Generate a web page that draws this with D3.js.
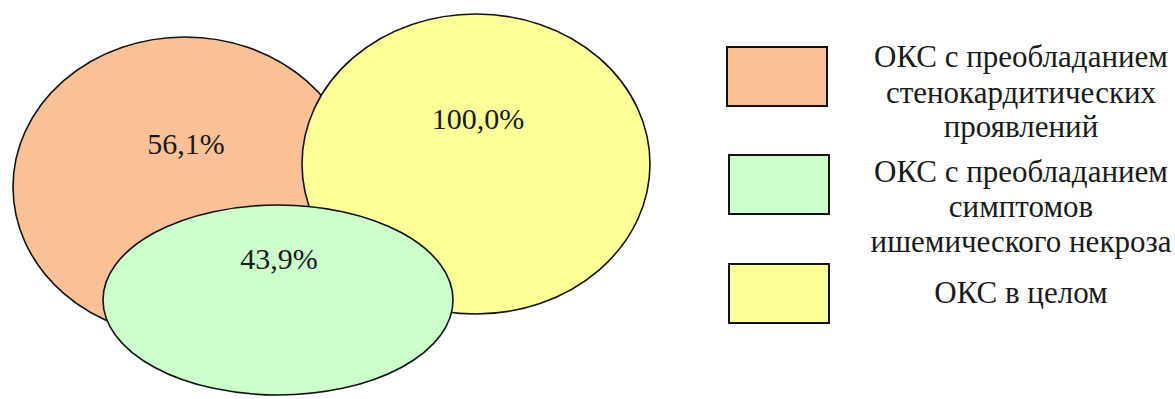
<!DOCTYPE html>
<html><head><meta charset="utf-8">
<script src="https://cdn.jsdelivr.net/npm/d3@7"></script>
</head><body>
<script>
// ---- data ----
const categories = ["ОКС с преобладанием стенокардитических проявлений", "ОКС с преобладанием симптомов ишемического некроза", "ОКС в целом"];
const values = [56.1, 43.9, 100.0];
const legendLines = [
  ["ОКС с преобладанием", "стенокардитических", "проявлений"],
  ["ОКС с преобладанием", "симптомов", "ишемического некроза"],
  ["ОКС в целом"]
];
const colors = ["#FAC196", "#CCFFCC", "#FFFF99"];

// ---- layout (drawing geometry, not data) ----
const W = 1175, H = 399;
const x = d3.scaleLinear().domain([0, 1]).range([0, W]);
const y = d3.scaleLinear().domain([0, 1]).range([0, H]);
const shapes = [
  {i: 0, cx: 185/W, cy: 187/H, rx: 172/W, ry: 150/H, lx: 186/W, ly: 154/H},
  {i: 2, cx: 476/W, cy: 164/H, rx: 174/W, ry: 150/H, lx: 478/W, ly: 129/H},
  {i: 1, cx: 278/W, cy: 300/H, rx: 175/W, ry: 95/H, lx: 279/W, ly: 269/H}
];
const fmt = v => d3.format(".1f")(v).replace(".", ",") + "%";

d3.select("body").style("margin", "0px").style("background", "#fff");
const svg = d3.select("body").append("svg").attr("width", W).attr("height", H).style("display", "block");

shapes.forEach(s => {
  svg.append("ellipse")
    .attr("cx", x(s.cx)).attr("cy", y(s.cy))
    .attr("rx", x(s.rx)).attr("ry", y(s.ry))
    .attr("fill", colors[s.i]).attr("stroke", "#111").attr("stroke-width", 1.6);
});
shapes.forEach(s => {
  svg.append("text")
    .attr("x", x(s.lx)).attr("y", y(s.ly))
    .attr("text-anchor", "middle")
    .attr("font-size", 30)
    .attr("font-family", "Liberation Serif")
    .style("font-family", `"Liberation Serif"`, "important")
    .attr("fill", "#1a1a1a")
    .text(fmt(values[s.i]));
});

const swatchY = [47, 155, 264];
const lineBase = [[67, 103, 137], [182, 217, 252], [303]];
categories.forEach((c, k) => {
  svg.append("rect")
    .attr("x", k === 0 ? 727 : 729).attr("y", swatchY[k])
    .attr("width", 100).attr("height", 59)
    .attr("fill", colors[k]).attr("stroke", "#111").attr("stroke-width", 2);
  legendLines[k].forEach((ln, j) => {
    svg.append("text")
      .attr("x", 1021).attr("y", lineBase[k][j])
      .attr("text-anchor", "middle")
      .attr("font-size", 31)
      .attr("font-family", "Liberation Serif")
      .style("font-family", `"Liberation Serif"`, "important")
      .attr("fill", "#1a1a1a")
      .text(ln);
  });
});
</script>
</body></html>
